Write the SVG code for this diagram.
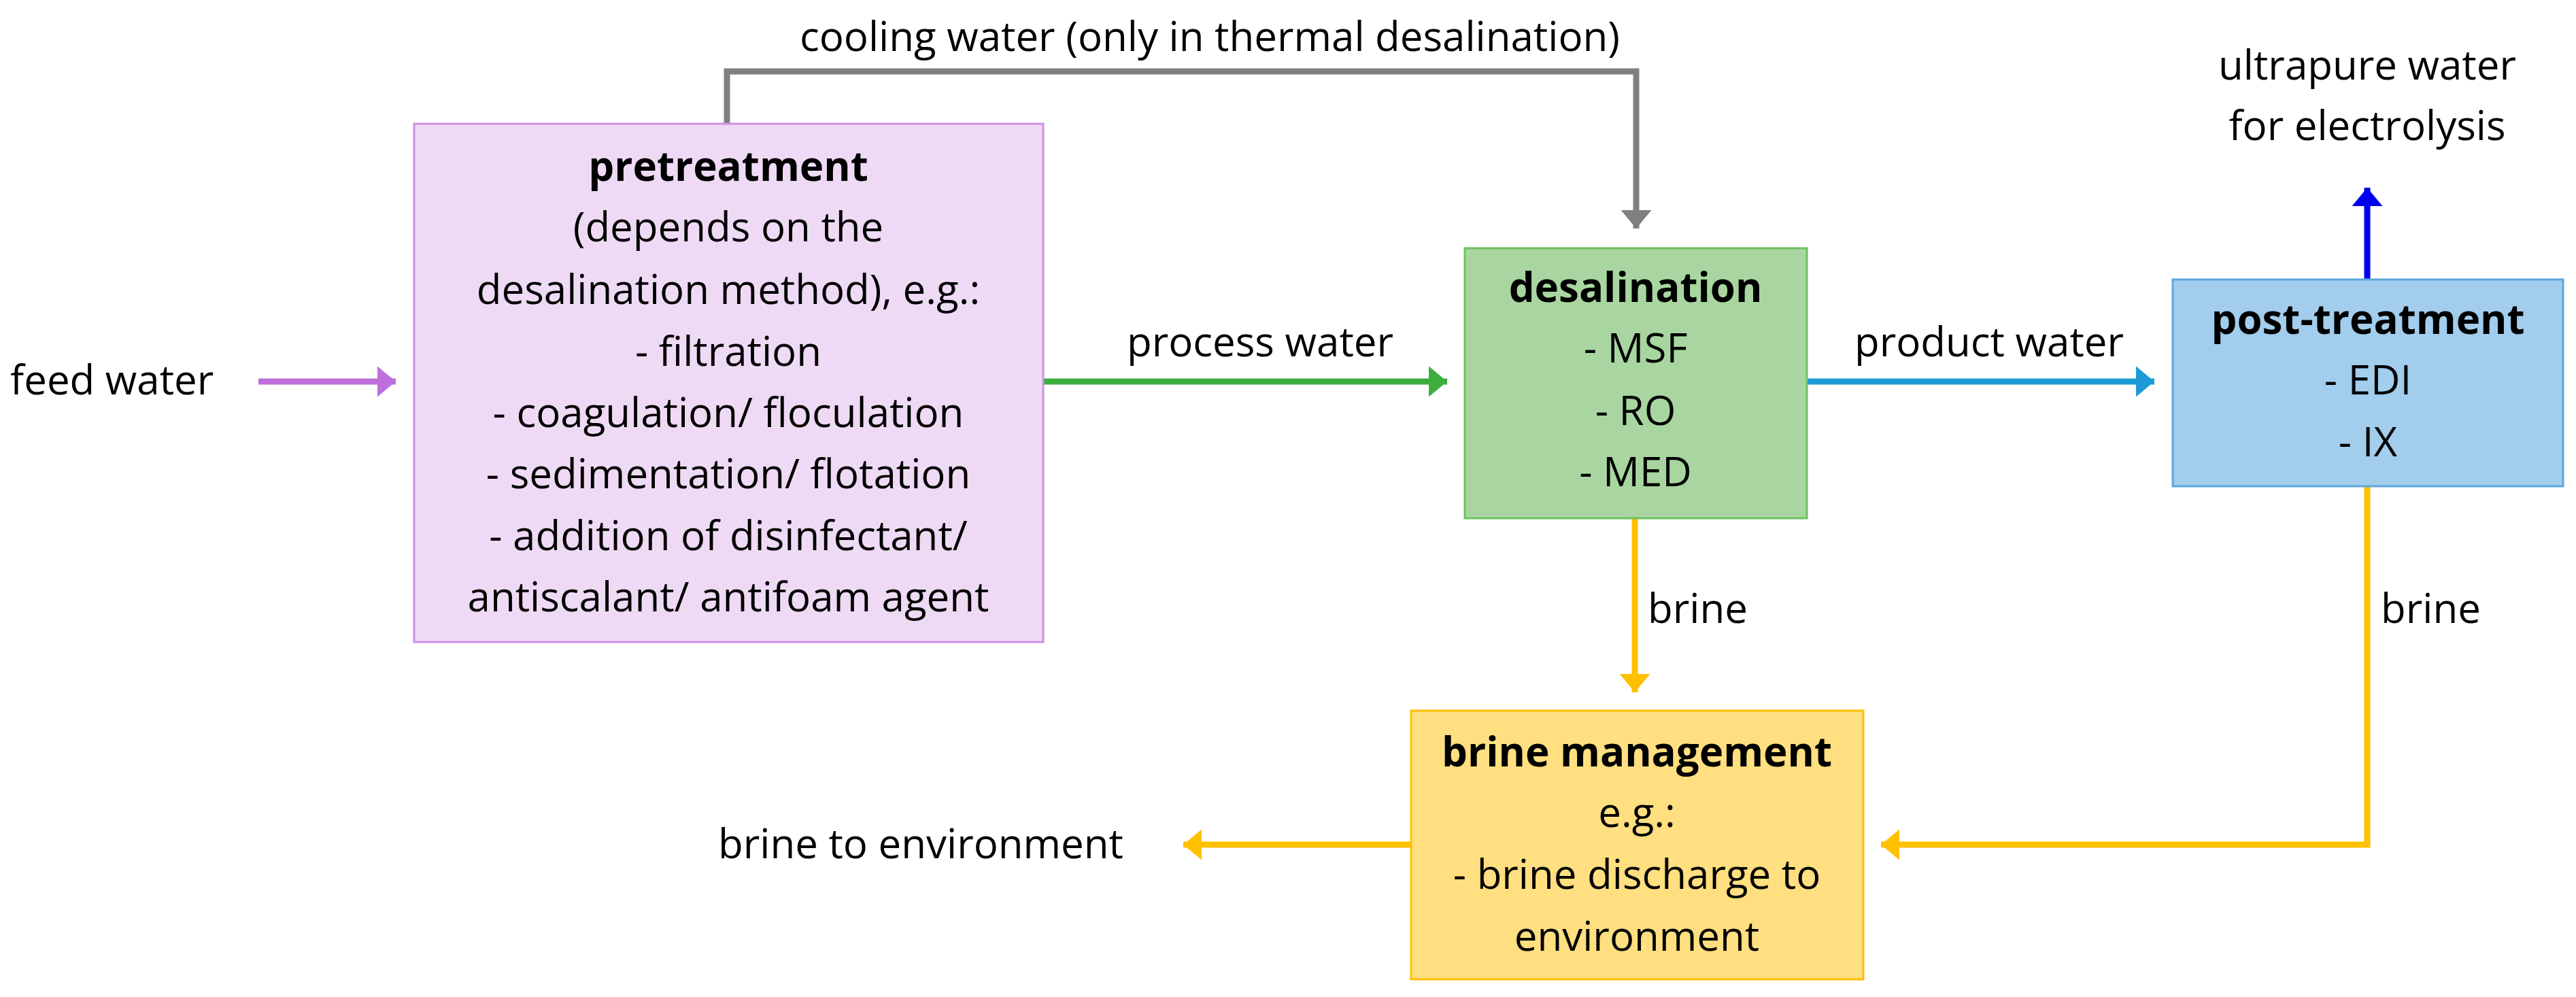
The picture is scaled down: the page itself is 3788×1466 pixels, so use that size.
<svg xmlns="http://www.w3.org/2000/svg" width="3788" height="1466" viewBox="0 0 3788 1466">
<style>
text{font-family:"Open Sans","Liberation Sans",sans-serif;font-size:60px;fill:#000}
.c{text-anchor:middle}
.b{font-weight:bold}
.ln{fill:none;stroke-width:9}
</style>
<defs>
<marker id="mp" markerWidth="5" markerHeight="5" refX="3" refY="2.5" orient="auto" markerUnits="strokeWidth"><path d="M0,0L3,2.5L0,5z" fill="#BF6FDB"/></marker>
<marker id="mg" markerWidth="5" markerHeight="5" refX="3" refY="2.5" orient="auto" markerUnits="strokeWidth"><path d="M0,0L3,2.5L0,5z" fill="#3DAE3D"/></marker>
<marker id="mb" markerWidth="5" markerHeight="5" refX="3" refY="2.5" orient="auto" markerUnits="strokeWidth"><path d="M0,0L3,2.5L0,5z" fill="#1E9BD7"/></marker>
<marker id="md" markerWidth="5" markerHeight="5" refX="3" refY="2.5" orient="auto" markerUnits="strokeWidth"><path d="M0,0L3,2.5L0,5z" fill="#0000F0"/></marker>
<marker id="my" markerWidth="5" markerHeight="5" refX="3" refY="2.5" orient="auto" markerUnits="strokeWidth"><path d="M0,0L3,2.5L0,5z" fill="#FFC000"/></marker>
<marker id="mx" markerWidth="5" markerHeight="5" refX="3" refY="2.5" orient="auto" markerUnits="strokeWidth"><path d="M0,0L3,2.5L0,5z" fill="#808080"/></marker>
</defs>
<rect width="3788" height="1466" fill="#fff"/>
<g id="connectors">
<path class="ln" stroke="#BF6FDB" d="M380,561H582" marker-end="url(#mp)"/>
<path class="ln" stroke="#3DAE3D" d="M1534,561H2128" marker-end="url(#mg)"/>
<path class="ln" stroke="#1E9BD7" d="M2657,561H3168" marker-end="url(#mb)"/>
<path class="ln" stroke="#808080" d="M1069,182V105H2406V336" marker-end="url(#mx)"/>
<path class="ln" stroke="#0000F0" d="M3481,411V276" marker-end="url(#md)"/>
<path class="ln" stroke="#FFC000" d="M2404,762V1018" marker-end="url(#my)"/>
<path class="ln" stroke="#FFC000" d="M3481,715V1242H2766" marker-end="url(#my)"/>
<path class="ln" stroke="#FFC000" d="M2075,1242H1740" marker-end="url(#my)"/>
</g>
<g id="labels">
<text x="15" y="580">feed water</text>
<text class="c" x="1779" y="75">cooling water (only in thermal desalination)</text>
<text class="c" x="1853" y="524">process water</text>
<text class="c" x="2925" y="524">product water</text>
<text class="c" x="3481" y="117">ultrapure water</text>
<text class="c" x="3481" y="206">for electrolysis</text>
<text x="2423" y="916">brine</text>
<text x="3501" y="916">brine</text>
<text text-anchor="end" x="1652" y="1262">brine to environment</text>
</g>
<g id="pretreatment">
<rect x="609" y="182" width="925" height="762" fill="#EFDAF5" stroke="#CC92E3" stroke-width="3"/>
<text class="c b" x="1071" y="266">pretreatment</text>
<text class="c" x="1071" y="355">(depends on the</text>
<text class="c" x="1071" y="447">desalination method), e.g.:</text>
<text class="c" x="1071" y="538">- filtration</text>
<text class="c" x="1071" y="628">- coagulation/ floculation</text>
<text class="c" x="1071" y="718">- sedimentation/ flotation</text>
<text class="c" x="1071" y="809">- addition of disinfectant/</text>
<text class="c" x="1071" y="899">antiscalant/ antifoam agent</text>
</g>
<g id="desalination">
<rect x="2154" y="365" width="503" height="397" fill="#A9D6A0" stroke="#6FC062" stroke-width="3"/>
<text class="c b" x="2405" y="444">desalination</text>
<text class="c" x="2405" y="533">- MSF</text>
<text class="c" x="2405" y="625">- RO</text>
<text class="c" x="2405" y="715">- MED</text>
</g>
<g id="posttreatment">
<rect x="3195" y="411" width="574" height="304" fill="#A2CDEC" stroke="#5FA6DC" stroke-width="3"/>
<text class="c b" x="3482" y="491">post-treatment</text>
<text class="c" x="3482" y="580">- EDI</text>
<text class="c" x="3482" y="671">- IX</text>
</g>
<g id="brinemanagement">
<rect x="2075" y="1045" width="665" height="395" fill="#FFDF7F" stroke="#FFC000" stroke-width="3"/>
<text class="c b" x="2407" y="1127">brine management</text>
<text class="c" x="2407" y="1216">e.g.:</text>
<text class="c" x="2407" y="1307">- brine discharge to</text>
<text class="c" x="2407" y="1398">environment</text>
</g>
</svg>
